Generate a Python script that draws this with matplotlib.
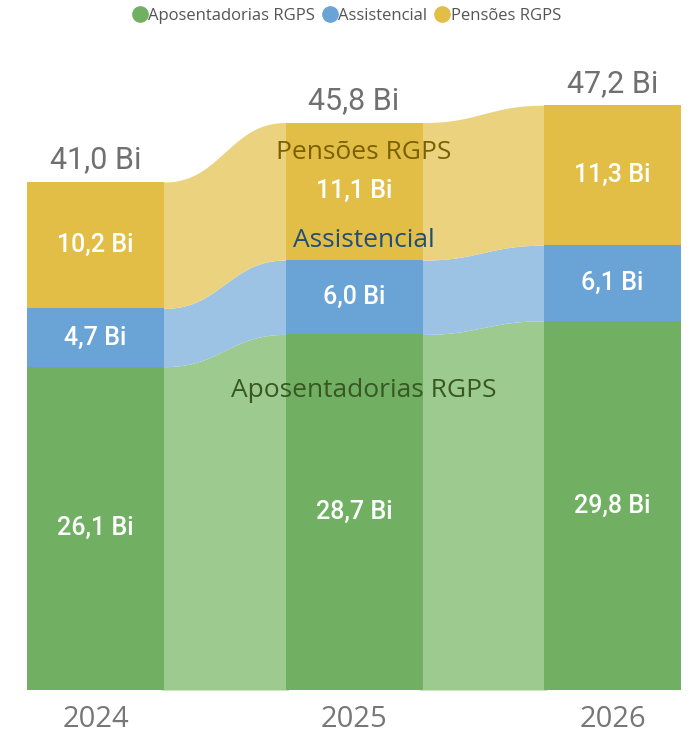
import numpy as np
import matplotlib
matplotlib.use("Agg")
import matplotlib.pyplot as plt
from matplotlib.lines import Line2D

years = ["2024", "2025", "2026"]
series = ["Aposentadorias RGPS", "Assistencial", "Pensões RGPS"]
aposentadorias = [26.1, 28.7, 29.8]
assistencial = [4.7, 6.0, 6.1]
pensoes = [10.2, 11.1, 11.3]
totals = [41.0, 45.8, 47.2]

bar_colors = ["#71B062", "#6AA4D6", "#E2BE47"]
ribbon_colors = ["#9DCB8F", "#9CC2E4", "#EBD27F"]
series_label_colors = ["#385723", "#1F4E79", "#7A6000"]

W, H = 692, 735
fig = plt.figure(figsize=(W / 100, H / 100), dpi=100)
ax = fig.add_axes([0, 0, 1, 1])

# pixel mapping
px_per_unit = 12.39
spacing = 258.5
x0_px = 95.5
ax.set_xlim(-x0_px / spacing, (W - x0_px) / spacing)
ax.set_ylim(-(H - 690) / px_per_unit, 690 / px_per_unit)
ax.axis("off")

bw = 137 / spacing
x = np.arange(len(years))
data = np.array([aposentadorias, assistencial, pensoes])
bottoms = np.vstack([np.zeros(len(years)), np.cumsum(data, axis=0)[:-1]])
tops = bottoms + data

# ribbons
ext = 3 / spacing
for i in range(len(years) - 1):
    xa = x[i] + bw / 2
    xb = x[i + 1] - bw / 2
    t = np.linspace(0, 1, 300)
    s = (1 - np.cos(np.pi * t)) / 2
    s = s * s * (3 - 2 * s) * 0.35 + s * 0.65
    xs = xa + (xb - xa) * t
    xs = np.concatenate([[xa - ext], xs, [xb + ext]])
    s = np.concatenate([[0], s, [1]])
    for k in range(len(series)):
        lo = bottoms[k, i] + (bottoms[k, i + 1] - bottoms[k, i]) * s
        hi = tops[k, i] + (tops[k, i + 1] - tops[k, i]) * s
        ax.fill_between(xs, lo, hi, color=ribbon_colors[k], lw=0, zorder=1)

# bars
for k in range(len(series)):
    ax.bar(x, data[k], bottom=bottoms[k], width=bw, color=bar_colors[k], lw=0, zorder=2)
    for i in range(len(years)):
        ax.text(x[i], bottoms[k, i] + data[k, i] / 2, f"{data[k, i]:.1f} Bi".replace(".", ","),
                ha="center", va="center", color="white", fontsize=18, fontweight="medium",
                family="Roboto", zorder=4)

# totals
for i in range(len(years)):
    ax.text(x[i], totals[i] + 0.6, f"{totals[i]:.1f} Bi".replace(".", ","),
            ha="center", va="bottom", color="#707070", fontsize=22, family="Roboto", zorder=4)

# year labels
for i in range(len(years)):
    ax.text(x[i], -2.35, years[i], ha="center", va="center", color="#777777",
            fontsize=21, family="Open Sans", zorder=4)

# series labels on ribbons (near 2025)
lab_x = x[1] + 10 / spacing
ax.text(lab_x, tops[2, 1] - 2.4, series[2], ha="center", va="center",
        color=series_label_colors[2], fontsize=19, family="Open Sans", zorder=5)
ax.text(lab_x, tops[1, 1] + 1.6, series[1], ha="center", va="center",
        color=series_label_colors[1], fontsize=19, family="Open Sans", zorder=5)
ax.text(lab_x, tops[0, 1] - 4.5, series[0], ha="center", va="center",
        color=series_label_colors[0], fontsize=19, family="Open Sans", zorder=5)

# legend
handles = [Line2D([0], [0], marker="o", color="none", markerfacecolor=c, markeredgecolor=c,
                  markersize=11) for c in bar_colors]
fig.legend(handles, series, loc="center", bbox_to_anchor=(0.5, 1 - 16 / H), ncol=3,
           frameon=False, handletextpad=0.0, columnspacing=0.4, handlelength=1.0,
           prop={"family": "Open Sans", "size": 12}, labelcolor="#555555")

fig.savefig("out.png", dpi=100)
